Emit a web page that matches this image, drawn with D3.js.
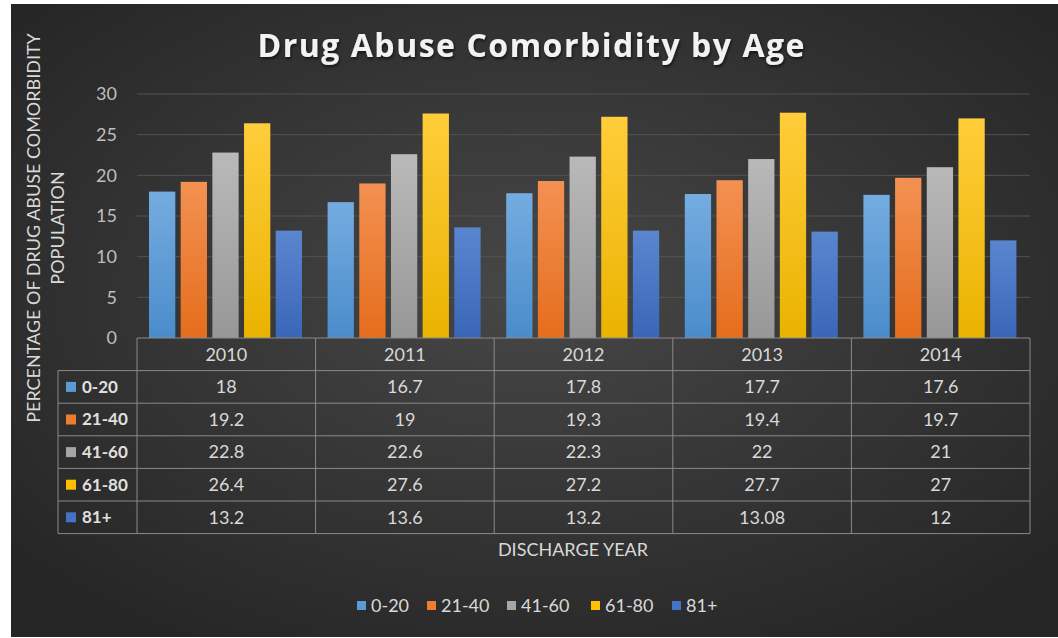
<!DOCTYPE html>
<html><head><meta charset="utf-8">
<script src="https://cdn.jsdelivr.net/npm/d3@7"></script>
<style>html,body{margin:0;padding:0;background:#fff;}svg{display:block;}</style>
</head><body>
<script>
const years = ["2010","2011","2012","2013","2014"];
const seriesNames = ["0-20","21-40","41-60","61-80","81+"];
const s0_20 = [18,16.7,17.8,17.7,17.6];
const s21_40 = [19.2,19,19.3,19.4,19.7];
const s41_60 = [22.8,22.6,22.3,22,21];
const s61_80 = [26.4,27.6,27.2,27.7,27];
const s81p = [13.2,13.6,13.2,13.08,12];
const tableLabels = [["18","16.7","17.8","17.7","17.6"],["19.2","19","19.3","19.4","19.7"],["22.8","22.6","22.3","22","21"],["26.4","27.6","27.2","27.7","27"],["13.2","13.6","13.2","13.08","12"]];
const yTicks = [0,5,10,15,20,25,30];
const seriesValues = [s0_20,s21_40,s41_60,s61_80,s81p];
const colors = ["#5b9bd5","#ed7d31","#a5a5a5","#ffc000","#4472c4"];
const topColors = ["#74ace0","#f39152","#b9b9b9","#ffcd3a","#5a86d0"];
const botColors = ["#4a8ccb","#e56d1c","#979797","#eab300","#3a66b8"];

(function(){
const W=1058,H=638;
const svg=d3.select("body").append("svg").attr("width",W).attr("height",H);
const defs=svg.append("defs");
const bg=defs.append("radialGradient").attr("id","bg").attr("cx","50%").attr("cy","45%").attr("r","65%");
bg.append("stop").attr("offset","0%").attr("stop-color","#474747");
bg.append("stop").attr("offset","100%").attr("stop-color","#262626");
colors.forEach((c,i)=>{
  const g=defs.append("linearGradient").attr("id","g"+i).attr("x1",0).attr("y1",0).attr("x2",0).attr("y2",1);
  g.append("stop").attr("offset","0%").attr("stop-color",topColors[i]);
  g.append("stop").attr("offset","100%").attr("stop-color",botColors[i]);
});
const sh=defs.append("filter").attr("id","sh").attr("x","-5%").attr("y","-30%").attr("width","110%").attr("height","160%");
sh.append("feDropShadow").attr("dx",1).attr("dy",2).attr("stdDeviation",1.5).attr("flood-color","#000").attr("flood-opacity",0.6);
svg.append("rect").attr("x",11).attr("y",4).attr("width",W-11).attr("height",H-5).attr("fill","url(#bg)");

const font="Lato, 'Open Sans', sans-serif";
const pLeft=137,pRight=1030,pTop=94,pBottom=338;
const x0=d3.scaleBand().domain(years).range([pLeft,pRight]).padding(0);
const x1=d3.scaleBand().domain(seriesNames).range([12,165]).paddingInner(0.17).paddingOuter(0);
const y=d3.scaleLinear().domain([0,30]).range([pBottom,pTop]);

svg.append("g").selectAll("line").data(yTicks.filter(d=>d>0)).join("line")
  .attr("x1",pLeft).attr("x2",pRight).attr("y1",d=>y(d)).attr("y2",d=>y(d))
  .attr("stroke","#525252").attr("stroke-width",1);

const yAxis=d3.axisLeft(y).tickValues(yTicks).tickSize(0).tickPadding(20);
const ya=svg.append("g").attr("transform",`translate(${pLeft},0)`).call(yAxis);
ya.select(".domain").remove();
ya.selectAll("text").attr("fill","#bfbfbf").style("font-family",font).style("font-size","18px");

const groups=svg.append("g").selectAll("g").data(years).join("g").attr("transform",d=>`translate(${x0(d)},0)`);
groups.selectAll("rect").data((d,i)=>seriesNames.map((s,j)=>({s,j,v:seriesValues[j][i]}))).join("rect")
  .attr("x",d=>x1(d.s)).attr("width",x1.bandwidth())
  .attr("y",d=>y(d.v)).attr("height",d=>y(0)-y(d.v))
  .attr("fill",d=>`url(#g${d.j})`);

const rowH=32.6;
const tbl=svg.append("g");
const lineC="#8a8a8a";
const tTop=pBottom, tLeft=58;
const nRows=seriesNames.length;
const tBottom=tTop+rowH*(nRows+1);
tbl.append("line").attr("x1",pLeft).attr("x2",pRight).attr("y1",tTop).attr("y2",tTop).attr("stroke",lineC);
d3.range(1,nRows+2).forEach(k=>{
  tbl.append("line").attr("x1",tLeft).attr("x2",pRight).attr("y1",tTop+rowH*k).attr("y2",tTop+rowH*k).attr("stroke",lineC);
});
years.forEach(yr=>{
  tbl.append("line").attr("x1",x0(yr)).attr("x2",x0(yr)).attr("y1",tTop).attr("y2",tBottom).attr("stroke",lineC);
});
tbl.append("line").attr("x1",pRight).attr("x2",pRight).attr("y1",tTop).attr("y2",tBottom).attr("stroke",lineC);
tbl.append("line").attr("x1",tLeft).attr("x2",tLeft).attr("y1",tTop+rowH).attr("y2",tBottom).attr("stroke",lineC);
tbl.selectAll("text.hdr").data(years).join("text").attr("class","hdr")
  .attr("x",d=>x0(d)+x0.bandwidth()/2).attr("y",tTop+rowH/2).attr("dy","0.35em")
  .attr("text-anchor","middle").attr("fill","#d9d9d9").style("font-family",font).style("font-size","18px").text(d=>d);
seriesNames.forEach((s,j)=>{
  const cy=tTop+rowH*(j+1)+rowH/2;
  tbl.append("rect").attr("x",66).attr("y",cy-5).attr("width",10).attr("height",10).attr("fill",colors[j]);
  tbl.append("text").attr("x",82).attr("y",cy).attr("dy","0.35em").attr("fill","#e0e0e0")
    .style("font-family",font).style("font-size","17px").style("font-weight","bold").text(s);
  years.forEach((yr,i)=>{
    tbl.append("text").attr("x",x0(yr)+x0.bandwidth()/2).attr("y",cy).attr("dy","0.35em")
      .attr("text-anchor","middle").attr("fill","#d9d9d9").style("font-family",font).style("font-size","18px")
      .text(tableLabels[j][i]);
  });
});

svg.append("text").attr("x",531).attr("y",57).attr("text-anchor","middle").attr("fill","#f2f2f2")
  .attr("filter","url(#sh)")
  .style("font-family","'Open Sans', sans-serif").style("font-weight","700").style("font-size","32px")
  .attr("textLength",547).attr("lengthAdjust","spacing").text("Drug Abuse Comorbidity by Age");

svg.append("text").attr("x",573).attr("y",556).attr("text-anchor","middle").attr("fill","#d9d9d9")
  .style("font-family",font).style("font-size","18px").text("DISCHARGE YEAR");
const yt=svg.append("text").attr("transform","translate(40,228) rotate(-90)").attr("text-anchor","middle")
  .attr("fill","#d9d9d9").style("font-family",font).style("font-size","18px");
yt.append("tspan").attr("x",0).attr("y",0).text("PERCENTAGE OF DRUG ABUSE COMORBIDITY");
yt.append("tspan").attr("x",0).attr("y",24).text("POPULATION");

const legX=[357,427,507,591,672];
const leg=svg.append("g");
seriesNames.forEach((s,j)=>{
  leg.append("rect").attr("x",legX[j]).attr("y",601).attr("width",9).attr("height",9).attr("fill",colors[j]);
  leg.append("text").attr("x",legX[j]+14).attr("y",606).attr("dy","0.35em").attr("fill","#d9d9d9")
    .style("font-family",font).style("font-size","18px").text(s);
});
})();
</script>
</body></html>
